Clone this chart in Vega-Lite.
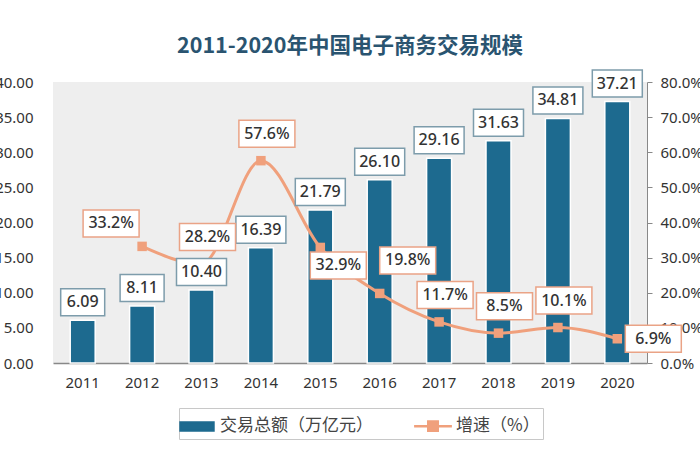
{
  "$schema": "https://vega.github.io/schema/vega-lite/v6.json",
  "autosize": "none",
  "width": 594,
  "height": 281,
  "padding": {"left": 53, "top": 82, "right": 53, "bottom": 107},
  "background": "white",
  "title": {
    "text": "2011-2020年中国电子商务交易规模",
    "font": "Noto Sans CJK SC",
    "fontSize": 21.5,
    "fontWeight": "bold",
    "color": "#2a5470",
    "anchor": "middle",
    "offset": 10
  },
  "data": {
    "values": [
      {"year": "2011", "amount": 6.09, "growth": null},
      {"year": "2012", "amount": 8.11, "growth": 0.332},
      {"year": "2013", "amount": 10.40, "growth": 0.282},
      {"year": "2014", "amount": 16.39, "growth": 0.576},
      {"year": "2015", "amount": 21.79, "growth": 0.329},
      {"year": "2016", "amount": 26.10, "growth": 0.198},
      {"year": "2017", "amount": 29.16, "growth": 0.117},
      {"year": "2018", "amount": 31.63, "growth": 0.085},
      {"year": "2019", "amount": 34.81, "growth": 0.101},
      {"year": "2020", "amount": 37.21, "growth": 0.069}
    ]
  },
  "encoding": {
    "x": {
      "field": "year",
      "type": "ordinal",
      "scale": {"paddingInner": 0, "paddingOuter": 0},
      "axis": {
        "title": null,
        "labelAngle": 0,
        "ticks": false,
        "domainColor": "#888888",
        "domainWidth": 1.5,
        "labelPadding": 12,
        "labelFontSize": 15,
        "labelColor": "#333333",
        "labelFont": "Noto Sans"
      }
    }
  },
  "layer": [
    {
      "mark": {"type": "bar", "width": 25, "stroke": "white", "strokeWidth": 1.5},
      "encoding": {
        "y": {
          "field": "amount",
          "type": "quantitative",
          "scale": {"domain": [0, 40], "nice": false},
          "axis": {
            "title": null,
            "orient": "left",
            "values": [0, 5, 10, 15, 20, 25, 30, 35, 40],
            "format": ".2f",
            "domain": false,
            "ticks": false,
            "grid": false,
            "labelPadding": 20,
            "labelFontSize": 15,
            "labelColor": "#333333",
            "labelFont": "Noto Sans"
          }
        },
        "color": {
          "datum": "交易总额（万亿元）",
          "scale": {
            "domain": ["交易总额（万亿元）", "增速（%）"],
            "range": ["#1d6a8f", "#f0a07c"]
          },
          "legend": {
            "title": null,
            "orient": "none",
            "legendX": 126,
            "legendY": 326,
            "direction": "horizontal",
            "symbolSize": 729,
            "symbolStrokeWidth": 2.5,
            "symbolType": {"expr": "datum.value == '增速（%）' ? 'M-1.4,0H1.4M-0.35,-0.35H0.35V0.35H-0.35Z' : 'M-1.22,-0.3H1.22V0.3H-1.22Z'"},
            "labelFont": "Noto Sans CJK SC",
            "labelFontSize": 17,
            "labelColor": "#444444",
            "labelOffset": 8,
            "columnPadding": 36,
            "padding": 3,
            "strokeColor": "#c8c8c8",
            "fillColor": "white",
            "encode": {
              "symbols": {
                "fill": {
                  "condition": {"test": "datum.value == '增速（%）'", "value": "#f0a07c"},
                  "value": "#1d6a8f"
                },
                "stroke": {
                  "condition": {"test": "datum.value == '增速（%）'", "value": "#f0a07c"},
                  "value": "#1d6a8f"
                },
                "strokeWidth": {"value": 2.5}
              }
            }
          }
        }
      }
    },
    {
      "transform": [{"filter": "isValid(datum.growth)"}],
      "encoding": {
        "y": {
          "field": "growth",
          "type": "quantitative",
          "scale": {"domain": [0, 0.8], "nice": false},
          "axis": {
            "title": null,
            "orient": "right",
            "values": [0, 0.1, 0.2, 0.3, 0.4, 0.5, 0.6, 0.7, 0.8],
            "format": ".1%",
            "grid": false,
            "domainColor": "#888888",
            "tickColor": "#888888",
            "tickSize": 5,
            "labelPadding": 8,
            "labelFontSize": 15,
            "labelColor": "#333333",
            "labelFont": "Noto Sans"
          }
        },
        "color": {"datum": "增速（%）"}
      },
      "layer": [
        {"mark": {"type": "line", "strokeWidth": 3, "interpolate": "monotone"}},
        {"mark": {"type": "point", "shape": "square", "filled": true, "size": 90, "opacity": 1}}
      ]
    },
    {
      "encoding": {
        "y": {
          "field": "amount",
          "type": "quantitative",
          "scale": {"domain": [0, 40], "nice": false},
          "axis": null
        }
      },
      "layer": [
        {
          "mark": {"type": "point", "filled": false, "fill": "white", "fillOpacity": 1, "stroke": "#7d9cab", "strokeWidth": 1.5, "opacity": 1, "yOffset": -18},
          "encoding": {
            "shape": {
              "condition": {"test": "datum.amount < 10", "value": "M-1,-0.614H1V0.614H-1Z"},
              "value": "M-1,-0.54H1V0.54H-1Z"
            },
            "size": {
              "condition": {"test": "datum.amount < 10", "value": 1936},
              "value": 2500
            }
          }
        },
        {
          "mark": {"type": "text", "yOffset": -18, "fontSize": 16, "fontWeight": 500, "font": "Noto Sans", "color": "#333333"},
          "encoding": {"text": {"field": "amount", "type": "quantitative", "format": ".2f"}}
        }
      ]
    },
    {
      "transform": [{"filter": "isValid(datum.growth)"}],
      "encoding": {
        "y": {
          "field": "growth",
          "type": "quantitative",
          "scale": {"domain": [0, 0.8], "nice": false},
          "axis": null
        },
        "text": {"field": "growth", "type": "quantitative", "format": ".1%"}
      },
      "layer": [
        {
          "transform": [{"filter": "indexof(['2013','2014','2017','2018','2019'], datum.year) >= 0"}],
          "layer": [
            {"mark": {"type": "point", "shape": "M-1,-0.482H1V0.482H-1Z", "size": 3136, "fill": "white", "fillOpacity": 1, "stroke": "#eaa386", "strokeWidth": 1.5, "opacity": 1, "xOffset": 6, "yOffset": -27}},
            {"mark": {"type": "text", "xOffset": 6, "yOffset": -27, "fontSize": 16, "fontWeight": 500, "font": "Noto Sans", "color": "#333333"}}
          ]
        },
        {
          "transform": [{"filter": "datum.year == '2012'"}],
          "layer": [
            {"mark": {"type": "point", "shape": "M-1,-0.482H1V0.482H-1Z", "size": 3136, "fill": "white", "fillOpacity": 1, "stroke": "#eaa386", "strokeWidth": 1.5, "opacity": 1, "xOffset": -31, "yOffset": -23}},
            {"mark": {"type": "text", "xOffset": -31, "yOffset": -23, "fontSize": 16, "fontWeight": 500, "font": "Noto Sans", "color": "#333333"}}
          ]
        },
        {
          "transform": [{"filter": "datum.year == '2015'"}],
          "layer": [
            {"mark": {"type": "point", "shape": "M-1,-0.482H1V0.482H-1Z", "size": 3136, "fill": "white", "fillOpacity": 1, "stroke": "#eaa386", "strokeWidth": 1.5, "opacity": 1, "xOffset": 18, "yOffset": 18}},
            {"mark": {"type": "text", "xOffset": 18, "yOffset": 18, "fontSize": 16, "fontWeight": 500, "font": "Noto Sans", "color": "#333333"}}
          ]
        },
        {
          "transform": [{"filter": "datum.year == '2016'"}],
          "layer": [
            {"mark": {"type": "point", "shape": "M-1,-0.482H1V0.482H-1Z", "size": 3136, "fill": "white", "fillOpacity": 1, "stroke": "#eaa386", "strokeWidth": 1.5, "opacity": 1, "xOffset": 28, "yOffset": -33}},
            {"mark": {"type": "text", "xOffset": 28, "yOffset": -33, "fontSize": 16, "fontWeight": 500, "font": "Noto Sans", "color": "#333333"}}
          ]
        },
        {
          "transform": [{"filter": "datum.year == '2020'"}],
          "layer": [
            {"mark": {"type": "point", "shape": "M-1,-0.482H1V0.482H-1Z", "size": 3136, "fill": "white", "fillOpacity": 1, "stroke": "#eaa386", "strokeWidth": 1.5, "opacity": 1, "xOffset": 36, "yOffset": 0}},
            {"mark": {"type": "text", "xOffset": 36, "yOffset": 0, "fontSize": 16, "fontWeight": 500, "font": "Noto Sans", "color": "#333333"}}
          ]
        }
      ]
    }
  ],
  "resolve": {"scale": {"y": "independent"}},
  "config": {
    "view": {"fill": "#eeeeee", "stroke": null}
  }
}
